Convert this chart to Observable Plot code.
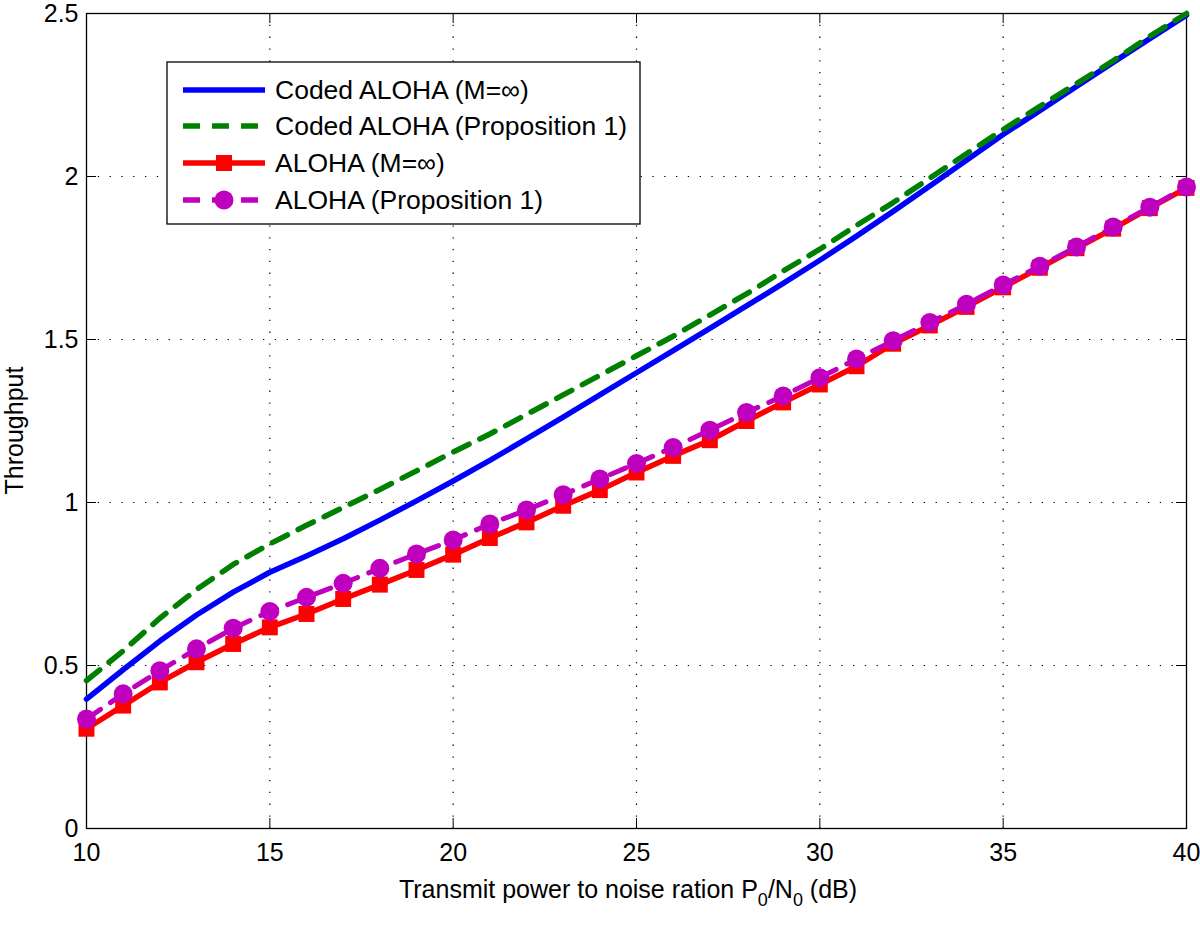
<!DOCTYPE html>
<html>
<head>
<meta charset="utf-8">
<script src="https://cdn.jsdelivr.net/npm/d3@7"></script>
<script src="https://cdn.jsdelivr.net/npm/@observablehq/plot@0.6"></script>
<style>
  html, body { margin: 0; padding: 0; background: #fff; }
  #chart { width: 1200px; height: 939px; }
</style>
</head>
<body>
<div id="chart"></div>
<script>
const snr = [10,11,12,13,14,15,16,17,18,19,20,21,22,23,24,25,26,27,28,29,30,31,32,33,34,35,36,37,38,39,40];
const codedInf = [0.397,0.487,0.575,0.655,0.725,0.786,0.836,0.889,0.946,1.005,1.066,1.129,1.195,1.262,1.33,1.398,1.466,1.534,1.603,1.672,1.743,1.817,1.893,1.971,2.05,2.129,2.202,2.276,2.35,2.423,2.495];
const codedProp = [0.454,0.545,0.645,0.733,0.81,0.873,0.93,0.985,1.04,1.097,1.155,1.21,1.27,1.33,1.39,1.45,1.51,1.575,1.64,1.71,1.777,1.85,1.92,1.995,2.07,2.144,2.215,2.285,2.355,2.43,2.50];
const alohaInf = [0.306,0.377,0.448,0.510,0.566,0.617,0.658,0.704,0.748,0.793,0.840,0.891,0.939,0.990,1.038,1.092,1.143,1.191,1.250,1.307,1.362,1.418,1.487,1.543,1.600,1.660,1.720,1.780,1.840,1.903,1.965];
const alohaProp = [0.336,0.413,0.484,0.551,0.614,0.666,0.709,0.752,0.798,0.842,0.885,0.934,0.977,1.024,1.072,1.120,1.169,1.222,1.276,1.327,1.383,1.440,1.496,1.552,1.608,1.667,1.725,1.784,1.845,1.906,1.968];

const xTicks = [10,15,20,25,30,35,40];
const yTicks = [0,0.5,1,1.5,2,2.5];
const seriesNames = ["Coded ALOHA (M=∞)", "Coded ALOHA (Proposition 1)", "ALOHA (M=∞)", "ALOHA (Proposition 1)"];
const colors = ["#0000ff", "#008000", "#ff0000", "#bf00bf"];

const rows = (ys) => snr.map((x, i) => ({x, y: ys[i]}));
const dBlue = rows(codedInf), dGreen = rows(codedProp), dRed = rows(alohaInf), dMag = rows(alohaProp);

const W = 1200, H = 939;
const mL = 86, mR = 14, mT = 13, mB = 111;
const innerW = W - mL - mR, innerH = H - mT - mB;
const tickLen = 10;
const FONT = "'Liberation Sans', Arial, Helvetica, sans-serif";
const FS = 25;

const chart = Plot.plot({
  width: W, height: H,
  marginLeft: mL, marginRight: mR, marginTop: mT, marginBottom: mB,
  style: {fontFamily: FONT, fontSize: FS + "px", color: "black", background: "white"},
  x: {domain: [10, 40], label: null},
  y: {domain: [0, 2.5], label: null},
  marks: [
    Plot.gridX(xTicks.slice(1, -1), {stroke: "black", strokeOpacity: 1, strokeWidth: 1.2, strokeDasharray: "1.3,10.5"}),
    Plot.gridY(yTicks.slice(1, -1), {stroke: "black", strokeOpacity: 1, strokeWidth: 1.2, strokeDasharray: "1.3,10.5"}),
    Plot.axisX(xTicks, {tickSize: 0, tickPadding: 15, fontSize: FS, fontFamily: FONT, fill: "black", label: null}),
    Plot.axisY(yTicks, {tickSize: 0, tickPadding: 8, fontSize: FS, fontFamily: FONT, fill: "black", label: null, tickFormat: d => String(d)}),
    Plot.tickX(xTicks, {x: d => d, insetTop: innerH - tickLen, stroke: "black"}),
    Plot.tickX(xTicks, {x: d => d, insetBottom: innerH - tickLen, stroke: "black"}),
    Plot.tickY(yTicks, {y: d => d, insetRight: innerW - tickLen, stroke: "black"}),
    Plot.tickY(yTicks, {y: d => d, insetLeft: innerW - tickLen, stroke: "black"}),
    Plot.frame({stroke: "black", strokeWidth: 1.3}),
    Plot.line(dBlue, {x: "x", y: "y", stroke: colors[0], strokeWidth: 5.5}),
    Plot.line(dGreen, {x: "x", y: "y", stroke: colors[1], strokeWidth: 5.5, strokeDasharray: "17,12"}),
    Plot.line(dRed, {x: "x", y: "y", stroke: colors[2], strokeWidth: 5.5}),
    Plot.dot(dRed, {x: "x", y: "y", symbol: "square", r: 9, fill: colors[2], stroke: "none"}),
    Plot.line(dMag, {x: "x", y: "y", stroke: colors[3], strokeWidth: 5, strokeDasharray: "17,12"}),
    Plot.dot(dMag, {x: "x", y: "y", symbol: "circle", r: 9.5, fill: colors[3], stroke: "none"})
  ]
});

document.getElementById("chart").appendChild(chart);

const svg = d3.select(chart);

// Axis labels
svg.append("text")
  .attr("transform", `translate(23, ${mT + innerH / 2 + 10}) rotate(-90)`)
  .attr("text-anchor", "middle")
  .style("font-family", FONT).style("font-size", FS + "px").attr("fill", "black")
  .text("Throughput");

const xl = svg.append("text")
  .attr("x", mL + innerW / 2 - 8).attr("y", 898)
  .attr("text-anchor", "middle")
  .style("font-family", FONT).style("font-size", FS + "px").attr("fill", "black");
xl.append("tspan").text("Transmit power to noise ration P");
xl.append("tspan").attr("dy", 8).style("font-size", "18px").text("0");
xl.append("tspan").attr("dy", -8).text("/N");
xl.append("tspan").attr("dy", 8).style("font-size", "18px").text("0");
xl.append("tspan").attr("dy", -8).text(" (dB)");

// Legend
const lg = svg.append("g").attr("transform", "translate(167, 62)");
lg.append("rect").attr("width", 473).attr("height", 162)
  .attr("fill", "white").attr("stroke", "black").attr("stroke-width", 1.3);
const rowsY = [28, 64, 101, 138];
const styles = [
  {dash: null, marker: null},
  {dash: "17,12", marker: null},
  {dash: null, marker: "square"},
  {dash: "17,12", marker: "circle"}
];
seriesNames.forEach((name, i) => {
  const g = lg.append("g").attr("transform", `translate(0, ${rowsY[i]})`);
  const ln = g.append("line").attr("x1", 16).attr("x2", 98).attr("y1", 0).attr("y2", 0)
    .attr("stroke", colors[i]).attr("stroke-width", 5.5);
  if (styles[i].dash) ln.attr("stroke-dasharray", styles[i].dash);
  if (styles[i].marker === "square") {
    g.append("rect").attr("x", 57 - 8).attr("y", -8).attr("width", 16).attr("height", 16).attr("fill", colors[i]);
  } else if (styles[i].marker === "circle") {
    g.append("circle").attr("cx", 57).attr("cy", 0).attr("r", 9.5).attr("fill", colors[i]);
  }
  g.append("text").attr("x", 108).attr("y", 9)
    .attr("text-anchor", "start")
    .style("font-family", FONT).style("font-size", "26.5px").attr("fill", "black")
    .text(name);
});
</script>
</body>
</html>
